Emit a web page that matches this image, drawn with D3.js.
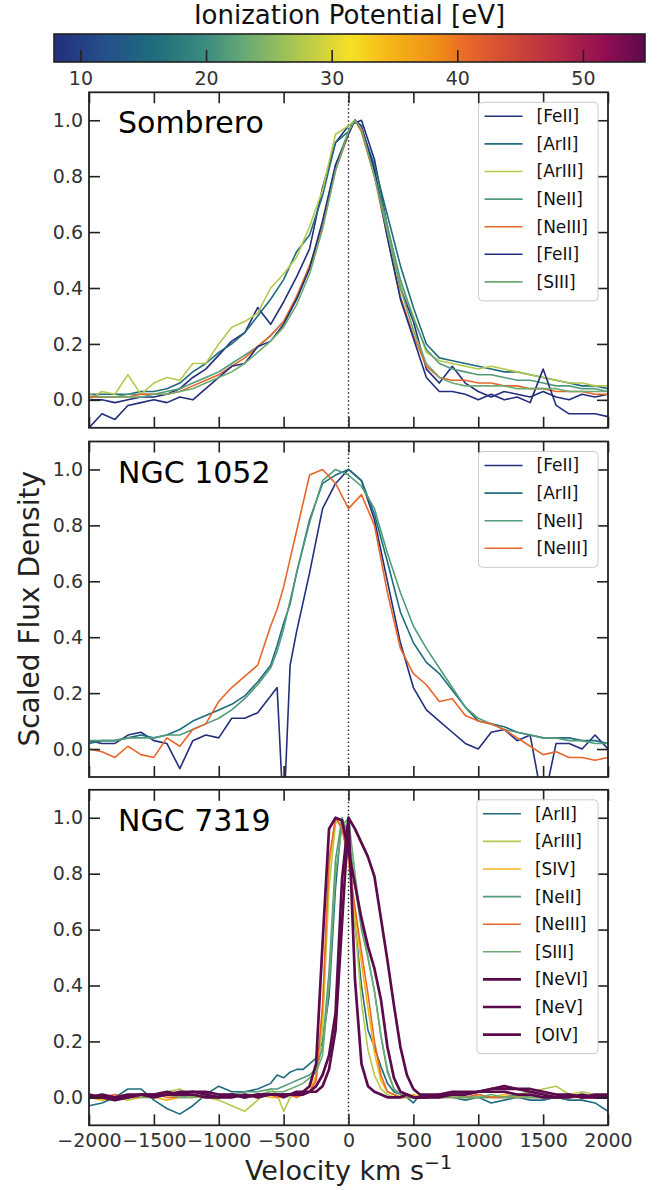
<!DOCTYPE html>
<html>
<head>
<meta charset="utf-8">
<script src="https://cdn.jsdelivr.net/npm/d3@7"></script>
<style>
  body { margin: 0; background: #fff; }
  text { font-family: "DejaVu Sans", sans-serif; }
</style>
</head>
<body>
<script>
/**
 * Data: scaled line profiles
 */

const X_TICKS = [-2000, -1500, -1000, -500, 0, 500, 1000, 1500, 2000];
const Y_TICKS = [0.0, 0.2, 0.4, 0.6, 0.8, 1.0];
const CBAR_TICKS = [10, 20, 30, 40, 50];
const CBAR_RANGE = [7.90, 54.94];   // eV, min / max ionization potential

// --- Sombrero
const sombreroVel = [-2000,-1900,-1800,-1700,-1600,-1500,-1400,-1300,-1200,-1100,-1000,-900,-800,-700,-600,-500,-400,-300,-200,-100,
  0,50,100,
  200,300,400,500,600,700,800,900,1000,1100,1200,1300,1400,1500,1600,1700,1800,1900,2000];
const sombreroLines = ["[FeII]", "[ArII]", "[ArIII]", "[NeII]", "[NeIII]", "[FeII]", "[SIII]"];
const sombreroIP = [7.90, 15.76, 27.63, 21.56, 40.96, 7.90, 23.34];
const sombreroFlux = [
  [0.00,0.00,-0.01,0.00,0.01,0.01,0.02,0.04,0.08,0.11,0.16,0.21,0.24,0.33,0.27,0.35,0.44,0.54,0.76,0.92,
   0.98,0.99,1.00,
   0.86,0.62,0.40,0.28,0.11,0.06,0.12,0.06,0.03,0.01,0.03,0.02,0.01,0.03,0.01,0.00,0.02,0.01,0.02],
  [0.02,0.02,0.02,0.02,0.03,0.03,0.04,0.06,0.10,0.13,0.17,0.20,0.24,0.30,0.36,0.43,0.53,0.59,0.73,0.92,
   0.96,1.00,0.97,
   0.84,0.66,0.48,0.33,0.20,0.15,0.14,0.13,0.12,0.11,0.10,0.10,0.09,0.08,0.07,0.06,0.05,0.05,0.04],
  [0.00,0.03,0.02,0.09,0.02,0.06,0.08,0.07,0.13,0.13,0.20,0.26,0.28,0.31,0.40,0.45,0.51,0.62,0.75,0.95,
   0.98,1.00,0.96,
   0.80,0.62,0.42,0.30,0.17,0.14,0.13,0.12,0.11,0.12,0.11,0.10,0.09,0.08,0.07,0.06,0.06,0.05,0.05],
  [0.01,0.01,0.01,0.02,0.02,0.02,0.03,0.04,0.06,0.08,0.10,0.13,0.16,0.19,0.23,0.28,0.36,0.47,0.63,0.84,
   0.96,1.00,0.97,
   0.82,0.62,0.43,0.29,0.18,0.13,0.11,0.10,0.09,0.09,0.08,0.07,0.07,0.06,0.05,0.05,0.04,0.04,0.03],
  [0.01,0.01,0.01,0.01,0.02,0.02,0.02,0.03,0.05,0.07,0.09,0.12,0.15,0.19,0.23,0.28,0.37,0.48,0.62,0.82,
   0.95,1.00,0.96,
   0.80,0.58,0.37,0.23,0.12,0.08,0.07,0.07,0.06,0.06,0.05,0.05,0.04,0.04,0.03,0.03,0.03,0.02,0.02],
  [-0.10,-0.05,-0.07,-0.02,-0.01,0.00,-0.01,0.01,0.00,0.04,0.08,0.12,0.13,0.19,0.21,0.27,0.36,0.47,0.64,0.84,
   0.95,1.00,0.98,
   0.82,0.58,0.36,0.22,0.08,0.03,0.03,0.02,0.00,0.02,0.00,0.01,-0.01,0.11,-0.02,-0.05,-0.05,-0.05,-0.06],
  [0.02,0.01,0.01,0.01,0.01,0.02,0.02,0.03,0.04,0.06,0.08,0.10,0.13,0.17,0.21,0.26,0.34,0.45,0.61,0.82,
   0.96,1.00,0.97,
   0.80,0.60,0.40,0.25,0.13,0.08,0.06,0.05,0.05,0.05,0.05,0.04,0.04,0.04,0.04,0.03,0.03,0.03,0.03]
];

// --- NGC 1052
const n1052Vel = [-2000,-1900,-1800,-1700,-1600,-1500,-1400,-1300,-1200,-1100,-1000,-900,-800,-700,-600,
  -550,-500,-450,
  -400,-300,-200,-100,0,100,200,300,400,500,600,700,800,900,1000,1100,1200,1300,1400,1500,1600,1700,1800,1900,2000];
const n1052Lines = ["[FeII]", "[ArII]", "[NeII]", "[NeIII]"];
const n1052IP = [7.90, 15.76, 21.56, 40.96];
const n1052Flux = [
  [0.03,0.02,0.02,0.05,0.06,0.03,0.02,-0.07,0.03,0.05,0.04,0.11,0.11,0.13,0.19,
   0.22,-0.25,0.30,
   0.42,0.63,0.86,0.95,1.00,0.96,0.82,0.60,0.38,0.22,0.14,0.10,0.06,0.02,0.00,0.06,0.07,0.03,0.05,-0.20,0.02,0.02,0.00,0.05,0.00],
  [0.02,0.03,0.03,0.04,0.05,0.04,0.05,0.07,0.10,0.12,0.14,0.16,0.19,0.24,0.30,
   0.37,0.45,0.52,
   0.63,0.82,0.95,0.98,1.00,0.96,0.84,0.67,0.49,0.38,0.31,0.27,0.21,0.15,0.10,0.09,0.08,0.06,0.05,0.04,0.04,0.04,0.03,0.03,0.02],
  [0.03,0.03,0.03,0.04,0.04,0.04,0.05,0.05,0.07,0.09,0.11,0.14,0.18,0.23,0.29,
   0.35,0.43,0.53,
   0.63,0.81,0.96,1.00,0.98,0.94,0.86,0.70,0.56,0.44,0.36,0.29,0.22,0.15,0.11,0.09,0.07,0.06,0.05,0.04,0.04,0.03,0.03,0.02,0.02],
  [0.00,-0.01,-0.03,0.01,-0.02,-0.03,0.04,0.01,0.07,0.09,0.17,0.22,0.26,0.30,0.44,
   0.50,0.58,0.68,
   0.78,0.98,1.00,0.95,0.86,0.91,0.80,0.56,0.36,0.27,0.23,0.17,0.18,0.12,0.10,0.09,0.07,0.04,0.01,-0.02,-0.01,-0.03,-0.03,-0.04,-0.03]
];

// --- NGC 7319
const n7319Vel = [-2000,-1900,-1800,-1700,-1600,-1500,-1400,-1300,-1200,-1100,-1000,-900,-800,-700,-600,
  -550,-500,-450,-400,-350,-300,-250,-200,-150,-100,-50,0,50,100,150,200,250,300,350,400,450,500,550,
  600,700,800,900,1000,1100,1200,1300,1400,1500,1600,1700,1800,1900,2000];
const n7319Lines = ["[ArII]", "[ArIII]", "[SIV]", "[NeII]", "[NeIII]", "[SIII]", "[NeVI]", "[NeV]", "[OIV]"];
const n7319IP = [15.76, 27.63, 34.79, 21.56, 40.96, 23.34, 126.21, 97.12, 54.94];
const n7319Flux = [
  [-0.03,-0.02,0.00,0.03,0.03,-0.01,-0.04,-0.06,-0.03,0.01,0.04,0.02,0.02,0.03,0.05,
   0.08,0.07,0.09,0.10,0.10,0.12,0.14,0.20,0.36,0.75,1.00,0.90,0.62,0.40,0.24,0.18,0.11,0.05,0.02,0.01,0.00,-0.02,0.01,
   0.00,0.01,0.00,-0.01,0.00,-0.02,-0.01,0.00,-0.01,-0.01,0.00,-0.01,-0.01,-0.02,-0.05],
  [0.01,0.00,0.00,-0.01,0.00,0.01,0.02,0.03,0.00,0.00,-0.01,-0.03,-0.05,-0.01,0.03,
   0.01,-0.05,0.00,0.01,0.01,0.02,0.06,0.25,0.75,0.98,1.00,0.88,0.62,0.34,0.17,0.08,0.03,0.01,0.00,0.00,0.00,0.01,0.00,
   0.00,0.01,0.00,0.00,0.01,0.00,0.00,0.01,0.02,0.03,0.04,0.01,0.02,0.01,0.01],
  [0.00,-0.01,0.00,0.01,0.00,0.00,-0.01,0.00,0.01,0.00,0.00,0.01,0.00,0.01,0.00,
   0.00,0.00,0.01,0.00,0.01,0.02,0.08,0.30,0.82,1.00,0.97,0.85,0.66,0.48,0.32,0.16,0.06,0.02,0.01,0.00,0.00,0.01,0.00,
   0.00,0.00,0.01,0.00,0.00,0.00,0.01,0.00,0.01,0.00,0.00,0.01,0.00,0.00,0.00],
  [0.00,0.01,0.00,0.00,0.01,0.00,0.01,0.00,0.01,0.00,0.01,0.01,0.02,0.02,0.03,
   0.03,0.04,0.05,0.06,0.07,0.08,0.10,0.18,0.45,0.85,1.00,0.94,0.76,0.60,0.50,0.38,0.22,0.09,0.03,0.01,0.00,0.00,0.00,
   0.00,0.00,0.01,0.00,0.00,0.00,0.00,0.01,0.00,0.00,0.00,0.00,0.01,0.00,0.00],
  [0.00,0.00,0.01,0.00,0.00,0.01,0.00,0.00,0.00,0.01,0.00,0.00,0.01,0.00,0.01,
   0.00,0.01,0.01,0.00,0.01,0.02,0.06,0.33,0.85,1.00,0.96,0.85,0.68,0.52,0.37,0.20,0.08,0.02,0.01,0.00,0.00,0.00,0.00,
   0.01,0.00,0.00,0.00,0.01,0.00,0.00,0.00,0.00,0.00,0.01,0.00,0.00,0.00,0.00],
  [0.00,0.00,0.00,0.01,0.00,0.00,0.01,0.00,0.00,0.01,0.00,0.01,0.01,0.01,0.02,
   0.02,0.02,0.03,0.04,0.05,0.07,0.09,0.15,0.40,0.80,0.97,1.00,0.80,0.62,0.50,0.38,0.22,0.10,0.03,0.01,0.00,0.00,0.00,
   0.00,0.00,0.00,0.00,0.00,0.01,0.00,0.00,0.00,0.00,0.00,0.01,0.00,0.00,0.00],
  [0.00,0.00,-0.01,0.00,0.01,0.01,0.01,0.02,0.02,0.01,0.00,0.00,0.01,0.00,0.01,
   0.01,0.01,0.01,0.02,0.02,0.04,0.12,0.55,0.96,1.00,0.99,0.88,0.76,0.64,0.54,0.46,0.35,0.18,0.07,0.02,0.01,0.00,0.00,
   0.00,0.01,0.01,0.01,0.02,0.03,0.03,0.03,0.02,0.01,0.00,0.01,0.00,0.00,0.00],
  [0.01,0.00,0.00,0.01,0.01,0.00,0.01,0.01,0.01,0.00,0.00,0.01,0.00,0.01,0.01,
   0.01,0.00,0.01,0.01,0.01,0.02,0.02,0.04,0.10,0.24,0.62,1.00,0.42,0.12,0.04,0.02,0.01,0.00,0.00,0.00,0.01,0.00,0.00,
   0.00,0.00,0.01,0.01,0.02,0.02,0.02,0.01,0.01,0.00,0.00,0.00,0.01,0.00,0.00],
  [0.00,0.01,0.00,0.00,0.01,0.01,0.02,0.01,0.02,0.02,0.01,0.01,0.00,0.01,0.01,
   0.01,0.01,0.01,0.01,0.02,0.02,0.04,0.08,0.15,0.30,0.78,1.00,0.96,0.91,0.86,0.79,0.64,0.49,0.33,0.18,0.08,0.03,0.01,
   0.01,0.01,0.02,0.02,0.02,0.03,0.04,0.03,0.03,0.02,0.01,0.01,0.00,0.01,0.01]
];

/**
 * Layout / style
 */
const WIDTH = 657;
const HEIGHT = 1190;
const PLOT_LEFT = 89;
const PLOT_RIGHT = 608;
const PANEL_H = 335.5;
const PANEL_TOPS = [92.3, 441.5, 789.8];
const TICK_LEN = 11;

const CB_LEFT = 54, CB_RIGHT = 645, CB_TOP = 34, CB_H = 28;

// colormap (blue -> teal -> green -> yellow -> orange -> red -> purple)
const CMAP_STOPS = [7.90, 12, 16, 20, 23, 27, 31.5, 35, 38.5, 41, 45, 49, 52, 54.94];
const CMAP_COLORS = ["#232f7d","#24508a","#1f6e7c","#3b8c80","#66a975","#a9c552","#f6e024",
                     "#f5b216","#ef8d18","#e8652a","#cc4339","#ac2249","#8e0c52","#5b0a4c"];
const cmap = d3.scaleLinear().domain(CMAP_STOPS).range(CMAP_COLORS)
    .interpolate(d3.interpolateRgb).clamp(true);

const panels = [
  { name: "Sombrero", vel: sombreroVel, labels: sombreroLines, ip: sombreroIP, flux: sombreroFlux },
  { name: "NGC 1052", vel: n1052Vel, labels: n1052Lines, ip: n1052IP, flux: n1052Flux },
  { name: "NGC 7319", vel: n7319Vel, labels: n7319Lines, ip: n7319IP, flux: n7319Flux }
];

const svg = d3.select("body").append("svg")
    .attr("width", WIDTH)
    .attr("height", HEIGHT);

svg.append("rect").attr("width", "100%").attr("height", "100%").attr("fill", "white");

const x = d3.scaleLinear().domain([-2000, 2000]).range([PLOT_LEFT, PLOT_RIGHT]);

function lineWidth(ip) { return ip > 50 ? 2.7 : 1.6; }

function styleAxis(sel) {
    sel.select(".domain").remove();
    sel.selectAll(".tick line").attr("stroke", "#222").attr("stroke-width", 1.6);
    sel.selectAll(".tick text")
        .attr("fill", "#333")
        .style("font-size", "19px")
        .style("font-family", "DejaVu Sans");
}

/**
 * Colorbar
 */
function drawColorbar() {
    const cbX = d3.scaleLinear().domain(CBAR_RANGE).range([CB_LEFT, CB_RIGHT]);
    const grad = svg.append("defs").append("linearGradient")
        .attr("id", "cbarGrad").attr("x1", "0%").attr("x2", "100%");
    for (let k = 0; k <= 60; k++) {
        const t = k / 60;
        grad.append("stop")
            .attr("offset", (t * 100) + "%")
            .attr("stop-color", cmap(CBAR_RANGE[0] + t * (CBAR_RANGE[1] - CBAR_RANGE[0])));
    }
    svg.append("rect")
        .attr("x", CB_LEFT).attr("y", CB_TOP)
        .attr("width", CB_RIGHT - CB_LEFT).attr("height", CB_H)
        .attr("fill", "url(#cbarGrad)");

    svg.append("g")
        .attr("transform", `translate(0,${CB_TOP + CB_H})`)
        .call(d3.axisBottom(cbX).tickValues(CBAR_TICKS).tickSize(-12).tickPadding(10))
        .call(styleAxis);

    svg.append("rect")
        .attr("x", CB_LEFT).attr("y", CB_TOP)
        .attr("width", CB_RIGHT - CB_LEFT).attr("height", CB_H)
        .attr("fill", "none").attr("stroke", "#222").attr("stroke-width", 1.6);

    svg.append("text")
        .attr("x", (CB_LEFT + CB_RIGHT) / 2).attr("y", 24)
        .attr("text-anchor", "middle")
        .style("font-size", "26px")
        .attr("fill", "#111")
        .text("Ionization Potential [eV]");
}

/**
 * One spectrum panel
 */
function drawPanel(p, i) {
    const top = PANEL_TOPS[i];
    const bottom = top + PANEL_H;
    const y = d3.scaleLinear().domain([-0.1, 1.1]).range([bottom, top]);
    const g = svg.append("g");

    const clipId = "clip" + i;
    svg.append("clipPath").attr("id", clipId)
        .append("rect")
        .attr("x", PLOT_LEFT).attr("y", top)
        .attr("width", PLOT_RIGHT - PLOT_LEFT).attr("height", PANEL_H);

    const plot = g.append("g").attr("clip-path", `url(#${clipId})`);

    // systemic velocity
    plot.append("line")
        .attr("x1", x(0)).attr("x2", x(0))
        .attr("y1", top).attr("y2", bottom)
        .attr("stroke", "#222")
        .attr("stroke-width", 1.4)
        .attr("stroke-dasharray", "1.4,2.6");

    const line = d3.line().x(d => x(d[0])).y(d => y(d[1]));

    p.flux.forEach((f, k) => {
        const pts = p.vel.map((v, j) => [v, f[j]]);
        plot.append("path")
            .attr("d", line(pts))
            .attr("fill", "none")
            .attr("stroke", cmap(p.ip[k]))
            .attr("stroke-width", lineWidth(p.ip[k]))
            .attr("stroke-linejoin", "round");
    });

    // axes, ticks inward on all sides
    const isLast = i === panels.length - 1;
    g.append("g").attr("transform", `translate(0,${bottom})`)
        .call(d3.axisBottom(x).tickValues(X_TICKS).tickSize(-TICK_LEN).tickPadding(8)
            .tickFormat(isLast ? d3.format("") : ""))
        .call(styleAxis);
    g.append("g").attr("transform", `translate(0,${top})`)
        .call(d3.axisTop(x).tickValues(X_TICKS).tickSize(-TICK_LEN).tickFormat(""))
        .call(styleAxis);
    g.append("g").attr("transform", `translate(${PLOT_LEFT},0)`)
        .call(d3.axisLeft(y).tickValues(Y_TICKS).tickSize(-TICK_LEN).tickPadding(6)
            .tickFormat(d3.format(".1f")))
        .call(styleAxis);
    g.append("g").attr("transform", `translate(${PLOT_RIGHT},0)`)
        .call(d3.axisRight(y).tickValues(Y_TICKS).tickSize(-TICK_LEN).tickFormat(""))
        .call(styleAxis);

    g.append("rect")
        .attr("x", PLOT_LEFT).attr("y", top)
        .attr("width", PLOT_RIGHT - PLOT_LEFT).attr("height", PANEL_H)
        .attr("fill", "none").attr("stroke", "#222").attr("stroke-width", 1.8);

    // galaxy name
    g.append("text")
        .attr("x", PLOT_LEFT + 29).attr("y", top + 41)
        .style("font-size", "30px")
        .attr("fill", "#000")
        .text(p.name);

    // legend
    const leg = g.append("g");
    const box = leg.append("rect");
    const rowH = 27.6;
    let maxW = 0;
    const texts = [];
    p.labels.forEach((lab, k) => {
        const t = leg.append("text")
            .attr("y", top + 10 + 14 + k * rowH)
            .attr("dy", "0.35em")
            .style("font-size", "17px")
            .attr("fill", "#111")
            .text(lab);
        maxW = Math.max(maxW, t.node().getComputedTextLength());
        texts.push(t);
    });
    const boxW = 58 + maxW + 10;
    const boxX = PLOT_RIGHT - 10 - boxW;
    const boxH = 14 + (p.labels.length - 1) * rowH + 19;
    box.attr("x", boxX).attr("y", top + 10)
        .attr("width", boxW).attr("height", boxH)
        .attr("rx", 4)
        .attr("fill", "white").attr("fill-opacity", 0.8)
        .attr("stroke", "#cccccc").attr("stroke-width", 1);
    texts.forEach((t, k) => {
        t.attr("x", boxX + 58);
        const yy = top + 10 + 14 + k * rowH;
        leg.append("line")
            .attr("x1", boxX + 6).attr("x2", boxX + 44)
            .attr("y1", yy).attr("y2", yy)
            .attr("stroke", cmap(p.ip[k]))
            .attr("stroke-width", lineWidth(p.ip[k]));
    });
}

function main() {
    drawColorbar();
    panels.forEach(drawPanel);

    // shared axis labels
    svg.append("text")
        .attr("transform", `translate(39,${(PANEL_TOPS[0] + PANEL_TOPS[2] + PANEL_H) / 2}) rotate(-90)`)
        .attr("text-anchor", "middle")
        .style("font-size", "28px")
        .attr("fill", "#222")
        .text("Scaled Flux Density");

    const xl = svg.append("text")
        .attr("x", (PLOT_LEFT + PLOT_RIGHT) / 2).attr("y", 1180)
        .attr("text-anchor", "middle")
        .style("font-size", "27px")
        .attr("fill", "#222");
    xl.append("tspan").text("Velocity km s");
    xl.append("tspan").attr("dy", -11).style("font-size", "19px").text("\u22121");
}

main()
</script>
</body>
</html>
